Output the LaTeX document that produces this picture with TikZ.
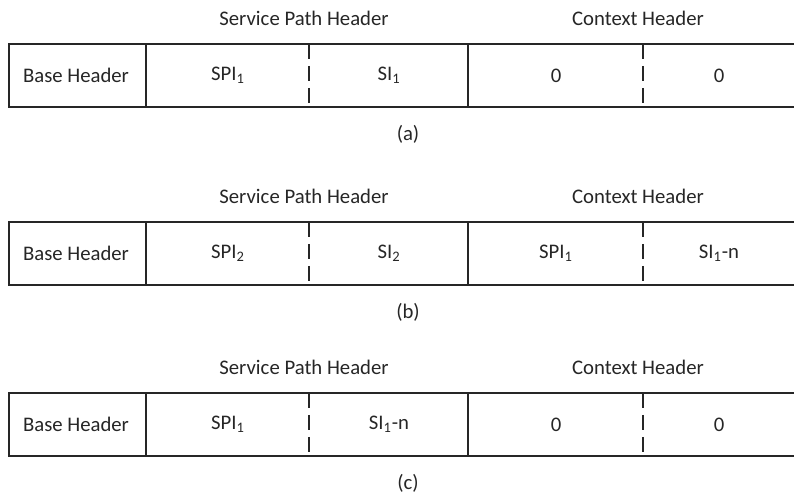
\documentclass[tikz,border=0pt]{standalone}
\usepackage{fontspec}
\setmainfont{Carlito}
\definecolor{ink}{RGB}{38,38,38}
\tikzset{
  frame/.style={line width=1.1pt, draw=ink},
  split/.style={frame, dash pattern=on 0.3cm off 0.14cm},
  field/.style={text=ink}
}
\begin{document}
\begin{tikzpicture}[x=0.02cm, y=-0.02cm, font=\fontsize{11.8}{14}\selectfont]
  \useasboundingbox (0, 0) rectangle (794, 493);

  \foreach \y/\tag/\spi/\si/\ctxa/\ctxb in {
      44/a/SPI\textsubscript{1}/SI\textsubscript{1}/0/0,
      222/b/SPI\textsubscript{2}/SI\textsubscript{2}/SPI\textsubscript{1}/SI\textsubscript{1}-n,
      393/c/SPI\textsubscript{1}/SI\textsubscript{1}-n/0/0} {
    % Headings
    \node [field] (sph-\tag) at (304, \y-26) {Service Path Header};
    \node [field] (ctx-\tag) at (638, \y-26) {Context Header};

    % Frame, open to the right
    \draw [frame] (794, \y) -- (9, \y) -- (9, \y+63) -- (794, \y+63);
    \draw [frame] (146, \y) -- (146, \y+63);
    \draw [frame] (468, \y) -- (468, \y+63);
    \draw [split] (309, \y) -- (309, \y+63);
    \draw [split] (643, \y) -- (643, \y+63);

    % Fields
    \node [field] (base-\tag) at (76, \y+31.5) {Base Header};
    \node [field] (spi-\tag) at (228, \y+31.5) {\spi};
    \node [field] (si-\tag) at (389, \y+31.5) {\si};
    \node [field] (ctxa-\tag) at (556, \y+31.5) {\ctxa};
    \node [field] (ctxb-\tag) at (719, \y+31.5) {\ctxb};

    % Caption
    \node [field] (cap-\tag) at (408, \y+90) {(\tag)};
  }
\end{tikzpicture}
\end{document}
